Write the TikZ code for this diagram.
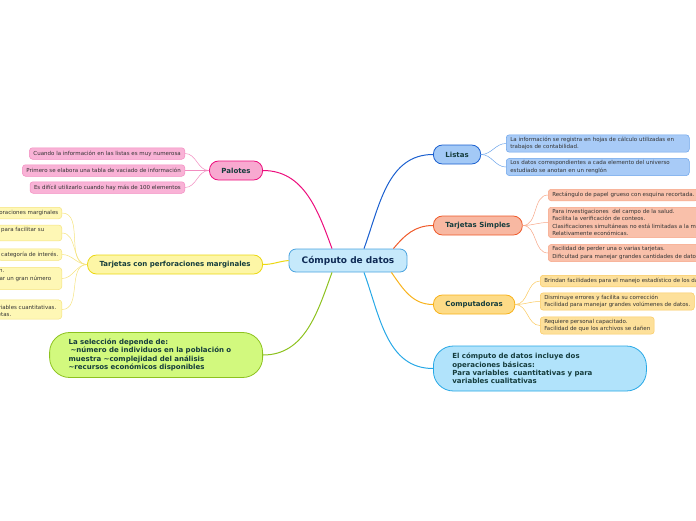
\documentclass[tikz,border=0pt]{standalone}
\usepackage{fontspec}
\setmainfont{DejaVu Sans}
\usetikzlibrary{positioning}
\definecolor{cfill}{HTML}{C6E9FB}
\definecolor{cdraw}{HTML}{4AA3DF}
\definecolor{ctext}{HTML}{0F2B55}
\definecolor{ttext}{HTML}{143C3C}
\definecolor{htext}{HTML}{333333}
\definecolor{pinkF}{HTML}{F8A9D0}
\definecolor{pinkD}{HTML}{EC0E7D}
\definecolor{pinkH}{HTML}{F9B2D6}
\definecolor{pinkL}{HTML}{F28CC0}
\definecolor{yelF}{HTML}{FDF6A6}
\definecolor{yelD}{HTML}{EBD712}
\definecolor{yelH}{HTML}{FEF7B5}
\definecolor{yelL}{HTML}{F5E37E}
\definecolor{greF}{HTML}{D2F97E}
\definecolor{greD}{HTML}{8DC21F}
\definecolor{bluF}{HTML}{A3C9F6}
\definecolor{bluD}{HTML}{1A5FCF}
\definecolor{bluH}{HTML}{A8CBF7}
\definecolor{bluL}{HTML}{6BA3EA}
\definecolor{oraF}{HTML}{F8B8A2}
\definecolor{oraD}{HTML}{EF5A2A}
\definecolor{oraH}{HTML}{F9C0AA}
\definecolor{oraL}{HTML}{F7A585}
\definecolor{ambF}{HTML}{FDDB87}
\definecolor{ambD}{HTML}{F8B21B}
\definecolor{ambH}{HTML}{FDE09A}
\definecolor{ambL}{HTML}{FAC95E}
\definecolor{celF}{HTML}{B1E3FB}
\definecolor{celD}{HTML}{27A8E6}

\begin{document}
\begin{tikzpicture}[x=1pt,y=-1pt,
    centro/.style={rounded corners=7pt, line width=0.8pt, fill=cfill, draw=cdraw,
      font=\fontsize{9}{10}\selectfont\bfseries, text=ctext,
      minimum width=118pt, minimum height=23pt},
    rama/.style args={#1/#2}{rounded corners=9pt, line width=0.8pt, fill=#1, draw=#2,
      font=\fontsize{7}{8.5}\selectfont\bfseries, text=ttext,
      inner xsep=12pt, minimum height=19pt},
    nube/.style args={#1/#2}{rounded corners=20pt, line width=0.8pt, fill=#1, draw=#2,
      font=\fontsize{7}{8.3}\selectfont\bfseries, text=ttext, align=left,
      text width=175pt, inner xsep=19pt, minimum height=45pt},
    hoja/.style args={#1/#2}{rounded corners=3pt, line width=0.5pt, fill=#1, draw=#2,
      font=\fontsize{5.5}{7.2}\selectfont, text=htext, align=left,
      inner xsep=4pt, inner ysep=2.3pt, minimum height=11.5pt},
    enlace/.style={line width=1pt, draw=#1},
    sub/.style={line width=0.5pt, draw=#1}]
  \clip (0,0) rectangle (696,520);

  \node[centro] (centro) at (348,260.5) {Cómputo de datos};

  % ramas izquierdas
  \node[rama=pinkF/pinkD, anchor=east] (pal) at (263,170.5) {Palotes};
  \node[rama=yelF/yelD, anchor=east] (perf) at (263,264.5) {Tarjetas con perforaciones marginales};
  \node[nube=greF/greD, anchor=east] (sel) at (263,355) {La selección depende de:\\
    \hspace*{2pt}\textasciitilde número de individuos en la población o\\
    muestra \textasciitilde complejidad del análisis\\
    \textasciitilde recursos económicos disponibles};

  % ramas derechas
  \node[rama=bluF/bluD, anchor=west] (lis) at (433,154.5) {Listas};
  \node[rama=oraF/oraD, anchor=west] (tsim) at (433,225.5) {Tarjetas Simples};
  \node[rama=ambF/ambD, anchor=west] (comp) at (433,304.5) {Computadoras};
  \node[nube=celF/celD, anchor=west] (inc) at (433,368.5) {El cómputo de datos incluye dos\\
    operaciones básicas:\\
    Para variables\ \ cuantitativas y para\\
    variables cualitativas};

  \draw[enlace=pinkD] ([xshift=-16pt]centro.north) to[out=110,in=0] (pal.east);
  \draw[enlace=yelD] (centro.west) to[out=185,in=0] (perf.east);
  \draw[enlace=greD] ([xshift=-16pt]centro.south) to[out=-110,in=0] (sel.east);
  \draw[enlace=bluD] ([xshift=16pt]centro.north) to[out=70,in=180] (lis.west);
  \draw[enlace=oraD] ([xshift=-14pt]centro.north east) to[out=50,in=180] (tsim.west);
  \draw[enlace=ambD] ([xshift=-16pt]centro.south east) to[out=-55,in=180] (comp.west);
  \draw[enlace=celD] ([xshift=16pt]centro.south) to[out=-70,in=180] (inc.west);

  % hojas de Palotes
  \node[hoja=pinkH/pinkL, anchor=east] (p1) at (185,153.5) {Cuando la información en las listas es muy numerosa};
  \node[hoja=pinkH/pinkL, anchor=east] (p2) at (185,170.5) {Primero se elabora una tabla de vaciado de información};
  \node[hoja=pinkH/pinkL, anchor=east] (p3) at (185,187.5) {Es difícil utilizarlo cuando hay más de 100 elementos};
  \foreach \n in {p1,p2,p3}
    \draw[sub=pinkL] (pal.west) to[out=180,in=0] (\n.east);

  % hojas de tarjetas con perforaciones
  \tikzset{corta/.style={hoja=yelH/yelL, anchor=east, align=right, inner xsep=3.5pt}}
  \node[corta] (t1) at (62,213) {oraciones marginales};
  \node[corta] (t2) at (62,233) {para facilitar su\rule{14pt}{0pt}\\\mbox{}};
  \node[corta] (t3) at (62,254.5) {categoría de interés.};
  \node[corta] (t4) at (62,278.5) {n.\rule{54pt}{0pt}\\ar un gran número\rule{7pt}{0pt}\\\mbox{}};
  \node[corta] (t5) at (62,309.5) {\mbox{}\\ariables cuantitativas.\rule{2pt}{0pt}\\etas.\rule{47pt}{0pt}};
  \foreach \n in {t1,t2,t3,t4,t5}
    \draw[sub=yelL] (perf.west) to[out=180,in=0] (\n.east);

  % hojas de Listas
  \node[hoja=bluH/bluL, anchor=west, text width=175pt] (l1) at (506,143.5) {La información se registra en hojas de cálculo utilizadas en\\trabajos de contabilidad.};
  \node[hoja=bluH/bluL, anchor=west, text width=175pt] (l2) at (506,167) {Los datos correspondientes a cada elemento del universo\\estudiado se anotan en un renglón};
  \foreach \n in {l1,l2}
    \draw[sub=bluL] (lis.east) to[out=0,in=180] (\n.west);

  % hojas de Tarjetas Simples
  \node[hoja=oraH/oraL, anchor=west] (s1) at (548,195) {Rectángulo de papel grueso con esquina recortada.};
  \node[hoja=oraH/oraL, anchor=west] (s2) at (548,222.5) {Para investigaciones\ \ del campo de la salud.\\Facilita la verificación de conteos.\\Clasificaciones simultáneas no está limitadas a la m\\Relativamente económicas.};
  \node[hoja=oraH/oraL, anchor=west] (s3) at (548,253) {Facilidad de perder una o varias tarjetas.\\Dificultad para manejar grandes cantidades de datos};
  \foreach \n in {s1,s2,s3}
    \draw[sub=oraL] (tsim.east) to[out=0,in=180] (\n.west);

  % hojas de Computadoras
  \node[hoja=ambH/ambL, anchor=west] (c1) at (540,281) {Brindan facilidades para el manejo estadístico de los datos.};
  \node[hoja=ambH/ambL, anchor=west] (c2) at (540,301.5) {Disminuye errores y facilita su corrección\\Facilidad para manejar grandes volúmenes de datos.};
  \node[hoja=ambH/ambL, anchor=west] (c3) at (540,325.5) {Requiere personal capacitado.\\Facilidad de que los archivos se dañen};
  \foreach \n in {c1,c2,c3}
    \draw[sub=ambL] (comp.east) to[out=0,in=180] (\n.west);
\end{tikzpicture}
\end{document}
